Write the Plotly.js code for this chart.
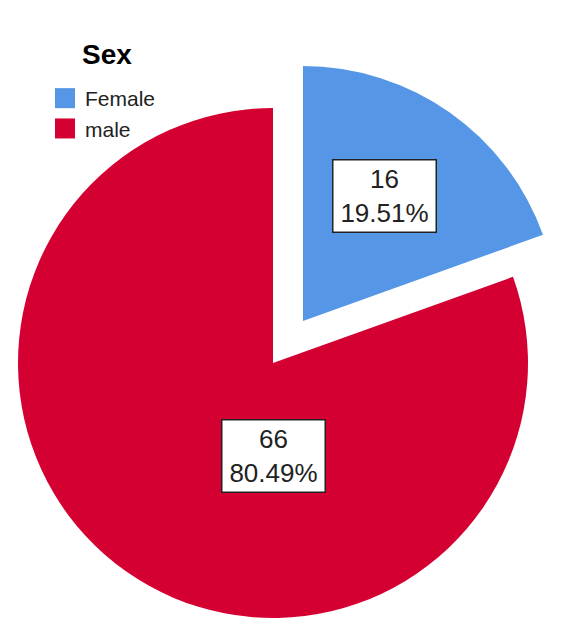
<!DOCTYPE html>
<html>
<head>
<meta charset="utf-8">
<script src="https://cdn.plot.ly/plotly-3.0.1.min.js"></script>
<style>html,body{margin:0;padding:0;background:#fff;}#chart{width:566px;height:641px;}</style>
</head>
<body>
<div id="chart"></div>
<script>
// ---- data ----
const categories = ['Female', 'male'];
const counts = [16, 66];
const legendTitle = 'Sex';
const colors = ['#5596e6', '#d40032'];

// ---- derived labels ----
const total = counts.reduce((a, b) => a + b, 0);
const pctText = counts.map(v => (100 * v / total).toFixed(2) + '%');
const labelText = counts.map((v, i) => v + '<br>' + pctText[i]);

const W = 566, H = 641;
function dom(cx, cy, r) {
  return { x: [(cx - r) / W, (cx + r) / W], y: [1 - (cy + r) / H, 1 - (cy - r) / H] };
}
const clear = 'rgba(0,0,0,0)';
const common = { type: 'pie', labels: categories, values: counts, sort: false,
  direction: 'clockwise', rotation: 0, textinfo: 'none', hoverinfo: 'label+value+percent' };

const traces = [
  // legend carrier (hidden beneath the main pie)
  Object.assign({}, common, { domain: dom(190, 490, 10), showlegend: true,
    marker: { colors: colors, line: { color: colors, width: 5 } }, hoverinfo: 'skip' }),
  // main (un-pulled) slice: male
  Object.assign({}, common, { domain: dom(273, 363, 255), showlegend: false,
    marker: { colors: [clear, colors[1]], line: { width: 0 } } }),
  // exploded slice: Female
  Object.assign({}, common, { domain: dom(303, 321, 255), showlegend: false,
    marker: { colors: [colors[0], clear], line: { width: 0 } } })
];

const labelPos = [[384, 196], [273.5, 456]];
const annotations = categories.map((c, i) => ({
  xref: 'paper', yref: 'paper', x: labelPos[i][0] / W, y: 1 - labelPos[i][1] / H,
  xanchor: 'center', yanchor: 'middle', showarrow: false,
  text: labelText[i], align: 'center',
  font: { family: 'Liberation Sans, Arial, sans-serif', size: 26, color: '#222' },
  bgcolor: '#ffffff', bordercolor: '#222', borderwidth: 1.5, borderpad: 1,
  width: 100, height: 69
}));
// legend title
annotations.push({
  xref: 'paper', yref: 'paper', x: 107 / W, y: 1 - 55 / H,
  xanchor: 'center', yanchor: 'middle', showarrow: false,
  text: '<b>' + legendTitle + '</b>',
  font: { family: 'Liberation Sans, Arial, sans-serif', size: 28, color: '#000' }
});

const layout = {
  width: W, height: H,
  margin: { l: 0, r: 0, t: 0, b: 0 },
  paper_bgcolor: '#ffffff',
  showlegend: true,
  legend: {
    x: 45 / W, y: 1 - 78 / H, xanchor: 'left', yanchor: 'top',
    bgcolor: 'rgba(0,0,0,0)',
    font: { family: 'Liberation Sans, Arial, sans-serif', size: 21, color: '#222' },
    traceorder: 'normal'
  },
  annotations: annotations
};

Plotly.newPlot('chart', traces, layout, { displayModeBar: false, staticPlot: true }).then(gd => {
  // enlarge legend swatches to match the reference's 20px squares
  gd.querySelectorAll('path.legendpie').forEach(p => {
    p.setAttribute('d', 'M10,10H-10V-10H10Z');
    p.style.strokeWidth = '0px';
  });
});
</script>
</body>
</html>
